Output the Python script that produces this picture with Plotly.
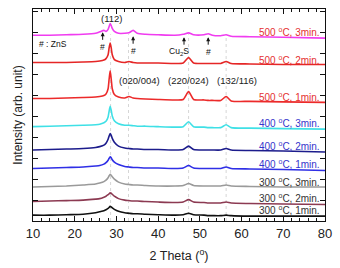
import plotly.graph_objects as go

two_theta = [10, 14, 18, 22, 25, 26, 27, 27.5, 28, 28.25, 28.5, 28.75, 29, 29.5, 30.5, 32, 33, 34, 35, 37,
             40, 44, 46, 47.3, 48.5, 51, 52, 53, 55, 56.3, 57.5, 62, 70, 80]

s300_1 = [6, 6, 6.5, 7, 8.5, 9.5, 10.5, 11.5, 13, 14, 15, 14.5, 13.5, 12, 10, 8.5, 8, 7.5, 7.5, 7,
          6.5, 6, 6.5, 8, 6.5, 6, 5.5, 5.5, 5.5, 6, 5.5, 5, 5, 5]
s300_2 = [20, 20.5, 21, 21.5, 22.5, 23, 24.5, 25.5, 27, 28, 29, 28.5, 27.5, 25.5, 23, 21.5, 21, 20.5, 20.5, 20,
          19.5, 19, 19.5, 22, 19.5, 19, 18.5, 18.5, 18.5, 19.5, 18.5, 18, 17.5, 17]
s300_3 = [35, 35.5, 36, 37, 38, 39, 40.5, 42, 44.5, 46.5, 48, 47, 45.5, 43, 40, 38, 37.5, 37, 37, 36.5,
          36, 36, 36.5, 38.5, 36.5, 36, 36, 36, 36, 37, 36, 35.5, 35, 35]
s400_1 = [54, 54.5, 55, 55.5, 56.5, 57, 58.5, 60, 62.5, 64.5, 66, 65, 63, 60.5, 58, 56, 55.5, 55, 55, 54.5,
          54.5, 54, 54.5, 57, 54.5, 54, 54, 54, 54, 55.5, 54, 53.5, 53, 52]
s400_2 = [73, 73.5, 74, 74.5, 75.5, 76.5, 78, 80, 84, 87.5, 90, 88, 85, 81, 77, 75, 74.5, 74, 74, 73.5,
          73.5, 73, 73.5, 77, 73.5, 73, 73, 73, 73, 74.5, 73, 72.5, 72, 71]
s400_3 = [97, 97.5, 98, 98.5, 99, 99.5, 101, 102.5, 107, 113, 118, 114, 108, 103, 100, 98.5, 98.5, 98, 97.5, 97.5,
          97, 96.5, 97, 102, 97, 96.5, 96, 96, 96, 99, 96, 95.5, 95, 94.5]
s500_1 = [126, 126, 126.5, 127, 127.5, 128, 129, 130.5, 136, 146, 154.5, 146, 136, 130, 127.5, 126.5, 128, 126.5, 126, 125.5,
          125, 124.5, 125, 133, 125, 124.5, 124, 124, 124, 128, 123.5, 123, 122.5, 122]
s500_2 = [163, 163, 163, 163.5, 164, 164.5, 165.5, 167, 171, 178, 183, 178, 171, 166, 164, 163, 164, 163, 162.5, 162.5,
          162.5, 162, 162.5, 168, 162.5, 162, 162, 162, 162, 164, 162, 161.5, 161, 161]
s500_3 = [191, 191, 191.5, 192, 193, 194.5, 196, 195, 197, 200, 203, 201, 198, 195, 193, 193, 193.5, 196, 193, 192,
          191.5, 191, 192, 193.5, 191.5, 191.5, 192.5, 191, 190.5, 191.5, 190, 189.5, 189, 188]

series = [s300_1, s300_2, s300_3, s400_1, s400_2, s400_3, s500_1, s500_2, s500_3]
line_colors = ["#111111", "#8c3a52", "#9a9a9a", "#2f2fe6", "#1c1c8c", "#3fe0e6", "#ec2a2a", "#e52626", "#f03cf0"]
labels = ["300 <sup>o</sup>C, 1min.", "300 <sup>o</sup>C, 2min.", "300 <sup>o</sup>C, 3min.",
          "400 <sup>o</sup>C, 1min.", "400 <sup>o</sup>C, 2min.", "400 <sup>o</sup>C, 3min.",
          "500 <sup>o</sup>C, 1min.", "500 <sup>o</sup>C, 2min.", "500 <sup>o</sup>C, 3min."]
label_y = [11, 24, 40, 59, 77, 101, 128, 166, 194]
label_colors = ["#333333"] * 3 + ["#3535cc"] * 3 + ["#e53030"] * 3

ref_lines = [28.6, 32.9, 47.3, 56.3]

peak_texts = ["(112)", "(020/004)", "(220/024)", "(132/116)"]
peak_x = [28.8, 35.6, 47.35, 58.9]
peak_y = [208, 144, 144, 144]

arrow_x = [26.7, 34.0, 46.2, 52.0]
arrow_tip_y = [194, 190, 189, 189]
arrow_text = ["#", "#", "", "#"]

FONT = "Liberation Sans, Arial, sans-serif"

fig = go.Figure()
for ys, c in zip(series, line_colors):
    fig.add_trace(go.Scatter(x=two_theta, y=ys, mode="lines",
                             line=dict(color=c, width=1.6, shape="spline", smoothing=0.6),
                             showlegend=False, hoverinfo="skip"))

shapes = []
for xv in ref_lines:
    shapes.append(dict(type="line", xref="x", yref="y", x0=xv, x1=xv, y0=0, y1=192,
                       line=dict(color="#d6d6d6", width=1, dash="dot"), layer="below"))

ann = []
for t, yv, c in zip(labels, label_y, label_colors):
    ann.append(dict(x=79.3, y=yv, xref="x", yref="y", text=t, showarrow=False,
                    xanchor="right", yanchor="middle", font=dict(size=10, color=c, family=FONT)))
for t, xv, yv in zip(peak_texts, peak_x, peak_y):
    ann.append(dict(x=xv, y=yv, xref="x", yref="y", text=t, showarrow=False,
                    xanchor="center", yanchor="middle", font=dict(size=9.5, color="#222222", family=FONT)))
for xv, yv, t in zip(arrow_x, arrow_tip_y, arrow_text):
    ann.append(dict(x=xv, y=yv, xref="x", yref="y", text="", showarrow=True, ax=0, ay=9,
                    arrowhead=2, arrowsize=0.8, arrowwidth=1, arrowcolor="#111111"))
    if t:
        ann.append(dict(x=xv, y=yv - 15, xref="x", yref="y", text=t, showarrow=False,
                        xanchor="center", yanchor="middle", font=dict(size=8.5, color="#111111", family=FONT)))
ann.append(dict(x=45.0, y=174, xref="x", yref="y", text="Cu<sub>2</sub>S", showarrow=False,
                xanchor="center", yanchor="middle", font=dict(size=8.5, color="#111111", family=FONT)))
ann.append(dict(x=10.9, y=182, xref="x", yref="y", text="# : ZnS", showarrow=False,
                xanchor="left", yanchor="middle", font=dict(size=8.5, color="#111111", family=FONT)))

fig.update_layout(
    width=340, height=268,
    margin=dict(l=33, r=9, t=8, b=42),
    paper_bgcolor="white", plot_bgcolor="white",
    shapes=shapes, annotations=ann,
    font=dict(family=FONT, color="#222222"),
)
fig.update_xaxes(range=[10, 80], showgrid=False, zeroline=False,
                 showline=True, linecolor="#111111", linewidth=1, mirror="ticks",
                 ticks="inside", ticklen=5, tickcolor="#111111", dtick=10, tick0=10,
                 tickfont=dict(size=13, family=FONT, color="#222222"),
                 minor=dict(ticks="inside", ticklen=3, dtick=2, tickcolor="#111111", showgrid=False),
                 title=dict(text="2 Theta (<sup>o</sup>)", font=dict(size=12.5, family=FONT, color="#222222"),
                            standoff=11))
fig.update_yaxes(range=[0, 218], showgrid=False, zeroline=False,
                 showline=True, linecolor="#111111", linewidth=1, mirror="ticks",
                 ticks="inside", ticklen=5, tickcolor="#111111", dtick=21.5, tick0=0,
                 showticklabels=False,
                 title=dict(text="Intensity (arb. unit)", font=dict(size=12, family=FONT, color="#222222"),
                            standoff=6))

fig.write_html("out.html")
